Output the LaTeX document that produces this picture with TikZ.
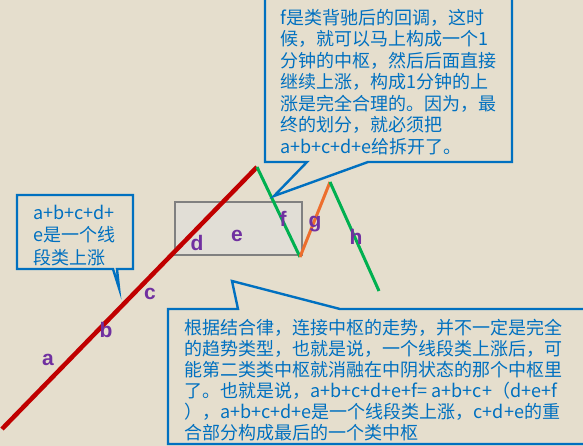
\documentclass[tikz,border=0pt]{standalone}
\usepackage{fontspec}
\setmainfont{Liberation Sans}
\newfontfamily\cjk{Noto Sans CJK SC}
\definecolor{bgcol}{RGB}{229,222,205}
\definecolor{cblue}{RGB}{0,112,192}
\definecolor{cred}{RGB}{192,0,0}
\definecolor{cgreen}{RGB}{0,176,80}
\definecolor{corange}{RGB}{237,110,45}
\definecolor{cpurple}{RGB}{112,48,160}
\tikzset{
  callout/.style={draw=cblue, line width=2.4pt, line join=miter},
  calltext/.style={font=\cjk\fontsize{18}{21.5}\selectfont, text=cblue, align=left, inner sep=0pt, anchor=north west},
  seglabel/.style={font=\bfseries\fontsize{21}{21}\selectfont, text=cpurple, inner sep=0pt, anchor=base},
  redseg/.style={draw=cred, line width=4.5pt},
  greenseg/.style={draw=cgreen, line width=3pt},
  orangeseg/.style={draw=corange, line width=3pt},
}
\begin{document}
\begin{tikzpicture}[x=1pt,y=-1pt]
\useasboundingbox (0,0) rectangle (583,446);
\clip (0,0) rectangle (583,446);
\fill[bgcol] (0,0) rectangle (583,446);
% zhongshu box
\node[draw=gray, line width=2pt, fill=gray!25, fill opacity=0.5, draw opacity=1, minimum width=127pt, minimum height=53pt, inner sep=0pt, anchor=north west] (box) at (174,201) {};
% zigzag
\coordinate (p0) at (2,429);
\coordinate (p1) at (257,167);
\coordinate (p2) at (300,257);
\coordinate (p3) at (330,182);
\coordinate (p4) at (379,291);
\draw[redseg] (p0) -- (p1);
\draw[greenseg] (p1) -- (p2);
\draw[orangeseg] (p2) -- (p3);
\draw[greenseg] (p3) -- (p4);
% labels
\node[seglabel] (la) at (48,365) {a};
\node[seglabel] (lb) at (106,337) {b};
\node[seglabel] (lc) at (150,299) {c};
\node[seglabel] (ld) at (197,251) {d};
\node[seglabel] (le) at (237,241) {e};
\node[seglabel] (lf) at (283,227) {f};
\node[seglabel] (lg) at (315,228) {g};
\node[seglabel] (lh) at (356,244) {h};
% top callout
\draw[callout] (265,-5) -- (265,162) -- (307,162) -- (274,196) -- (368,162) -- (512,162) -- (512,-5);
\node[calltext] (ttop) at (280,9) {\rule{0pt}{15pt}f是类背驰后的回调，这时\\候，就可以马上构成一个1\\分钟的中枢，然后后面直接\\继续上涨，构成1分钟的上\\涨是完全合理的。因为，最\\终的划分，就必须把\\a+b+c+d+e给拆开了。};
% left callout
\draw[callout] (17,195) -- (17,269) -- (113,269) -- (119,288) -- (117,269) -- (133,269) -- (133,195) -- cycle;
\node[calltext, font=\cjk\fontsize{18}{22.5}\selectfont] (tleft) at (33,204) {\rule{0pt}{15pt}a+b+c+d+\\e是一个线\\段类上涨};
% bottom callout
\draw[callout] (590,309) -- (340,309) -- (232,281) -- (238,309) -- (168,309) -- (168,444) -- (590,444);
\node[calltext, font=\cjk\fontsize{18}{21}\selectfont] (tbottom) at (184,319) {\rule{0pt}{15pt}根据结合律，连接中枢的走势，并不一定是完全\\的趋势类型，也就是说，一个线段类上涨后，可\\能第二类类中枢就消融在中阴状态的那个中枢里\\了。也就是说，a+b+c+d+e+f= a+b+c+（d+e+f\\），a+b+c+d+e是一个线段类上涨，c+d+e的重\\合部分构成最后的一个类中枢};
\end{tikzpicture}
\end{document}
